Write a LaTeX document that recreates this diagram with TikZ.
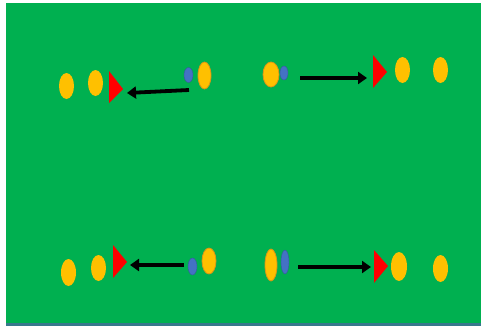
\documentclass[tikz,border=0pt]{standalone}
\usetikzlibrary{shapes.geometric,arrows.meta}
\definecolor{fieldgreen}{RGB}{0,176,80}
\definecolor{ballyellow}{RGB}{255,192,0}
\definecolor{glowor}{RGB}{220,150,20}
\definecolor{coneblue}{RGB}{68,114,196}
\definecolor{edgeline}{RGB}{56,120,140}
\tikzset{
  player/.style={ellipse, fill=ballyellow, inner sep=0pt, minimum width=15pt, minimum height=26pt},
  glowplayer/.style={player, draw=glowor, line width=0.8pt},
  marker/.style={ellipse, fill=coneblue, draw=coneblue!80!black, line width=0.4pt, inner sep=0pt, minimum width=9pt, minimum height=15pt},
  goal/.style={fill=red},
  runarrow/.style={line width=3.8pt, -{Triangle[length=9pt,width=12pt]}}
}
\begin{document}
\begin{tikzpicture}[x=1pt,y=-1pt]
\useasboundingbox (0,0) rectangle (483,327);
\fill[white] (0,0) rectangle (483,327);
\fill[fieldgreen] (6,3) rectangle (481,323);
\fill[edgeline] (6,323) rectangle (481,326);

% ---- top left group
\node[player] (p1) at (66.5,86) {};
\node[player] (p2) at (95.5,83) {};
\fill[goal] (109,71) -- (123,89) -- (109,103) -- cycle;
\node[marker] (m1) at (188.5,75) {};
\node[glowplayer, minimum width=13pt, minimum height=27pt] (p3) at (204.5,75.5) {};
\coordinate (a1s) at (189,90);
\coordinate (a1e) at (127,93);
\draw[runarrow] (a1s) -- (a1e);

% ---- top right group
\node[glowplayer, minimum width=16pt, minimum height=25pt] (p4) at (271,74.5) {};
\node[marker, minimum width=8pt, minimum height=14pt] (m2) at (284,73) {};
\coordinate (a2s) at (300,78);
\coordinate (a2e) at (367,78);
\draw[runarrow] (a2s) -- (a2e);
\fill[goal] (373,55) -- (387,72) -- (373,88) -- cycle;
\node[player] (p5) at (402.5,70) {};
\node[player] (p6) at (440.5,70) {};

% ---- bottom left group
\node[player, minimum height=27pt] (p7) at (68.5,272.5) {};
\node[player] (p8) at (98.5,268) {};
\fill[goal] (113,245) -- (127,262) -- (113,278) -- cycle;
\coordinate (a3s) at (184,265);
\coordinate (a3e) at (130,265);
\draw[runarrow] (a3s) -- (a3e);
\node[marker, minimum height=17pt] (m3) at (192.5,266.5) {};
\node[glowplayer, minimum width=14pt] (p9) at (209,261) {};

% ---- bottom right group
\node[glowplayer, minimum width=12pt, minimum height=32pt] (p10) at (271,265) {};
\node[marker, minimum width=8pt, minimum height=24pt] (m4) at (285,262) {};
\coordinate (a4s) at (298,267);
\coordinate (a4e) at (371,267);
\draw[runarrow] (a4s) -- (a4e);
\fill[goal] (374,250) -- (388,266) -- (374,283) -- cycle;
\node[player, minimum width=16pt, minimum height=29pt] (p11) at (399,266.5) {};
\node[player, minimum height=27pt] (p12) at (440.5,268.5) {};
\end{tikzpicture}
\end{document}
